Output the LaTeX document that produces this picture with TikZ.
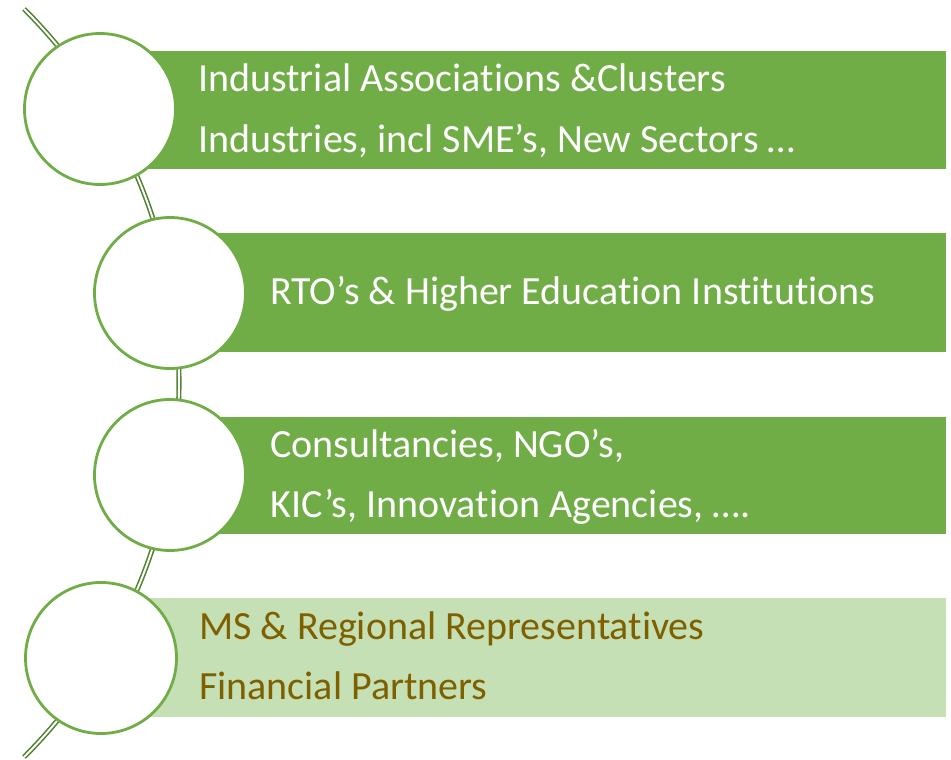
\documentclass[tikz,border=0pt]{standalone}
\usepackage{fontspec}
\setmainfont[RawFeature={-liga;-clig;-dlig}]{Carlito}
\definecolor{mid}{HTML}{70AD47}
\definecolor{pale}{HTML}{C5E0B4}
\definecolor{brown}{HTML}{7F6000}
\definecolor{deep}{HTML}{548235}
\tikzset{
  bar/.style={rectangle, inner sep=0pt, outer sep=0pt, anchor=north west},
  ring/.style={circle, draw=mid, line width=2.8pt, fill=white, minimum size=151pt, inner sep=0pt},
  label/.style={anchor=base west, inner sep=0pt, font=\fontsize{40}{48}\selectfont},
  spine/.style={draw=deep, line width=1.6pt, double=white, double distance=1.9pt}
}
\begin{document}
\begin{tikzpicture}[x=1pt,y=-1pt]
\useasboundingbox (0,0) rectangle (951,760);
% spine arc (centre at (-350,383), radius 529)
\coordinate (top) at ({-350+529*cos(45)},{383-529*sin(45)});
\coordinate (bottom) at ({-350+529*cos(45)},{383+529*sin(45)});
\draw[spine] (top) arc[start angle=-45, end angle=45, radius=529];
% bars
\node[bar, fill=mid, minimum width=846pt, minimum height=118pt] (r1) at (100,51) {};
\node[bar, fill=mid, minimum width=776pt, minimum height=119pt] (r2) at (170,233) {};
\node[bar, fill=mid, minimum width=776pt, minimum height=117pt] (r3) at (170,417) {};
\node[bar, fill=pale, minimum width=845pt, minimum height=119pt] (r4) at (101,598) {};
% circles
\node[ring] (c1) at (100,109) {};
\node[ring] (c2) at (170,293) {};
\node[ring] (c3) at (170,475) {};
\node[ring] (c4) at (101,658) {};
% texts
\node[label, text=white] (t1a) at (198,92) {Industrial Associations \&Clusters};
\node[label, text=white] (t1b) at (198,152) {Industries, incl SME’s, New Sectors …};
\node[label, text=white] (t2) at (270,304) {RTO’s \& Higher Education Institutions};
\node[label, text=white] (t3a) at (270,457) {Consultancies, NGO’s,};
\node[label, text=white] (t3b) at (270,517) {KIC’s, Innovation Agencies, ….};
\node[label, text=brown] (t4a) at (199,639) {MS \& Regional Representatives};
\node[label, text=brown] (t4b) at (199,699) {Financial Partners};
\end{tikzpicture}
\end{document}
